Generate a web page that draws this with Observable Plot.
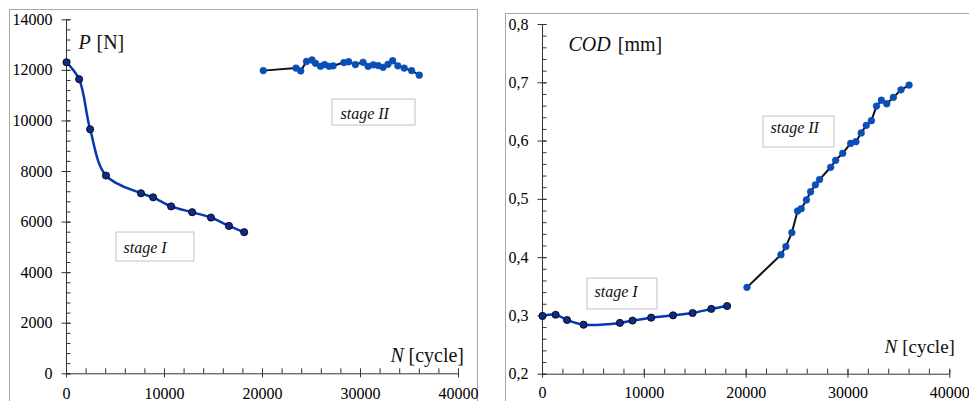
<!DOCTYPE html>
<html><head><meta charset="utf-8">
<script src="https://cdn.jsdelivr.net/npm/d3@7"></script>
<script src="https://cdn.jsdelivr.net/npm/@observablehq/plot@0.6"></script>
<style>
html,body{margin:0;padding:0;background:#fff;}
#wrap{position:relative;width:969px;height:401px;overflow:hidden;background:#fff;}
.frame{position:absolute;border:1px solid #a8a8a8;border-bottom:none;box-sizing:border-box;}
.panel{position:absolute;}
.panel svg{background:transparent !important;}
.panel svg, .panel svg text{font-family:"Liberation Serif","Times New Roman",Times,"DejaVu Serif",serif !important;}
</style></head><body>
<div id="wrap">
  <div class="frame" style="left:9px;top:9px;width:469px;height:392px"></div>
  <div class="frame" style="left:505px;top:13px;width:470px;height:388px"></div>
  <div id="left" class="panel" style="left:10px;top:10px"></div>
  <div id="right" class="panel" style="left:506px;top:14px"></div>
</div>
<script>
// ---- data ----
const stage1N = [0, 1290, 2410, 4030, 7600, 8840, 10670, 12820, 14740, 16580, 18130];
const stage1P = [12320, 11650, 9670, 7840, 7140, 6980, 6620, 6390, 6180, 5850, 5600];
const stage1COD = [0.300, 0.302, 0.293, 0.285, 0.288, 0.292, 0.297, 0.301, 0.305, 0.312, 0.317];

const stage2N = [20080, 23420, 23900, 24490, 25050, 25410, 25920, 26330, 26800, 27210, 28300, 28790,
                 29480, 30260, 30780, 31300, 31800, 32300, 32800, 33280, 33810, 34460, 35210, 36000];
const stage2P = [11990, 12090, 11980, 12350, 12410, 12280, 12160, 12230, 12160, 12180, 12310, 12340,
                 12230, 12320, 12160, 12220, 12190, 12120, 12240, 12380, 12180, 12090, 11990, 11810];
const stage2COD = [0.349, 0.405, 0.419, 0.443, 0.480, 0.484, 0.499, 0.513, 0.525, 0.534, 0.555, 0.567,
                   0.579, 0.596, 0.599, 0.614, 0.627, 0.635, 0.660, 0.670, 0.664, 0.675, 0.688, 0.696];

// tick values
const xMajor = [0, 10000, 20000, 30000, 40000];
const pMajor = [0, 2000, 4000, 6000, 8000, 10000, 12000, 14000];
const codMajor = [0.2, 0.3, 0.4, 0.5, 0.6, 0.7, 0.8];
const xMinor = d3.range(0, 40001, 2000);
const pMinor = d3.range(0, 14001, 400);
const codMinor = d3.range(0, 31).map(i => +(0.2 + i * 0.02).toFixed(2));

// ---- build tables ----
const s1P = stage1N.map((n, i) => ({n, v: stage1P[i]}));
const s2P = stage2N.map((n, i) => ({n, v: stage2P[i]}));
const s1C = stage1N.map((n, i) => ({n, v: stage1COD[i]}));
const s2C = stage2N.map((n, i) => ({n, v: stage2COD[i]}));

const AX = "#333";
const FONT = "'Liberation Serif', 'Times New Roman', Times, 'DejaVu Serif', serif";

function axes(yMajor, yMinor, yFmt, xPad) {
  return [
    Plot.ruleX([0], {stroke: AX}),
    Plot.ruleY([yMajor[0]], {stroke: AX}),
    Plot.axisY(yMinor, {anchor: "left", tickSize: 4.5, dx: 4.5, tickFormat: () => "", label: null, stroke: AX}),
    Plot.axisY(yMajor, {anchor: "left", tickSize: 9, dx: 4.5, tickFormat: () => "", label: null, stroke: AX}),
    Plot.axisY(yMajor, {anchor: "left", tickSize: 0, tickPadding: 14, tickFormat: yFmt, label: null, fill: "#000", fontSize: 16, fontFamily: FONT}),
    Plot.axisX(xMinor, {anchor: "bottom", tickSize: 5, dy: -5, tickFormat: () => "", label: null, stroke: AX}),
    Plot.axisX(xMajor, {anchor: "bottom", tickSize: 8, dy: -4, tickFormat: () => "", label: null, stroke: AX}),
    Plot.axisX(xMajor, {anchor: "bottom", tickSize: 0, tickPadding: xPad, tickFormat: d => String(d), label: null, fill: "#000", fontSize: 16, fontFamily: FONT})
  ];
}

function box(b) {
  return [
    Plot.rect([b], {x1: "x1", x2: "x2", y1: "y1", y2: "y2", fill: "#fff", stroke: "#c2c2c2", strokeWidth: 1}),
    Plot.text([b], {x: "tx", y: "ty", text: "t", textAnchor: "start", lineAnchor: "bottom", fontStyle: "italic", fontSize: 16, fontFamily: FONT, fill: "#111"})
  ];
}
function label(items) {
  return items.map(it => Plot.text([it], {x: "x", y: "y", text: "t", textAnchor: "start", lineAnchor: "bottom",
    fontStyle: it.italic ? "italic" : "normal", fontSize: it.size, fontFamily: FONT, fill: "#111"}));
}

const left = Plot.plot({
  width: 467, height: 391,
  marginLeft: 56, marginRight: 19, marginTop: 9.3, marginBottom: 27.7,
  style: {fontFamily: FONT, fontSize: "16px", background: "transparent", color: "#000", overflow: "visible"},
  x: {domain: [0, 40000]},
  y: {domain: [0, 14000]},
  marks: [
    ...axes(pMajor, pMinor, d => String(d), 14),
    ...box({x1: 5102, x2: 13061, y1: 4440, y2: 5587, tx: 5816, ty: 4796, t: "stage I"}),
    ...box({x1: 27143, x2: 35612, y1: 9818, y2: 10846, tx: 27959, ty: 10095, t: "stage II"}),
    ...label([
      {x: 1224, y: 12863, t: "P", italic: true, size: 20},
      {x: 3061, y: 12863, t: "[N]", italic: false, size: 20},
      {x: 33061, y: 486, t: "N", italic: true, size: 20},
      {x: 34898, y: 486, t: "[cycle]", italic: false, size: 20}
    ]),
    Plot.line(s1P, {x: "n", y: "v", curve: "catmull-rom", stroke: "#0638b0", strokeWidth: 2.5}),
    Plot.dot(s1P, {x: "n", y: "v", r: 3.6, fill: "#0c2c88", stroke: "#000", strokeWidth: 0.8}),
    Plot.line(s2P, {x: "n", y: "v", stroke: "#111", strokeWidth: 2}),
    Plot.dot(s2P, {x: "n", y: "v", r: 3.4, fill: "#0a4fb8", stroke: "#0a4fb8", strokeWidth: 0.5})
  ]
});
document.getElementById("left").appendChild(left);

const right = Plot.plot({
  width: 463, height: 387,
  marginLeft: 36, marginRight: 19.7, marginTop: 10, marginBottom: 27.3,
  style: {fontFamily: FONT, fontSize: "16px", background: "transparent", color: "#000", overflow: "visible"},
  x: {domain: [0, 40000]},
  y: {domain: [0.2, 0.8]},
  marks: [
    ...axes(codMajor, codMinor, d => d.toFixed(1).replace(".", ","), 12.5),
    ...box({x1: 4419, x2: 11293, y1: 0.311, y2: 0.364, tx: 5107, ty: 0.3316, t: "stage I"}),
    ...box({x1: 21703, x2: 28675, y1: 0.589, y2: 0.642, tx: 22390, ty: 0.613, t: "stage II"}),
    ...label([
      {x: 2553, y: 0.7537, t: "COD", italic: true, size: 20},
      {x: 7395, y: 0.7537, t: "[mm]", italic: false, size: 20},
      {x: 33585, y: 0.2367, t: "N", italic: true, size: 19},
      {x: 35322, y: 0.2367, t: "[cycle]", italic: false, size: 19}
    ]),
    Plot.line(s1C, {x: "n", y: "v", curve: "catmull-rom", stroke: "#0638b0", strokeWidth: 2.5}),
    Plot.dot(s1C, {x: "n", y: "v", r: 3.6, fill: "#0c2c88", stroke: "#000", strokeWidth: 0.8}),
    Plot.line(s2C, {x: "n", y: "v", stroke: "#111", strokeWidth: 2}),
    Plot.dot(s2C, {x: "n", y: "v", r: 3.4, fill: "#0a4fb8", stroke: "#0a4fb8", strokeWidth: 0.5})
  ]
});
document.getElementById("right").appendChild(right);
</script>
</body></html>
